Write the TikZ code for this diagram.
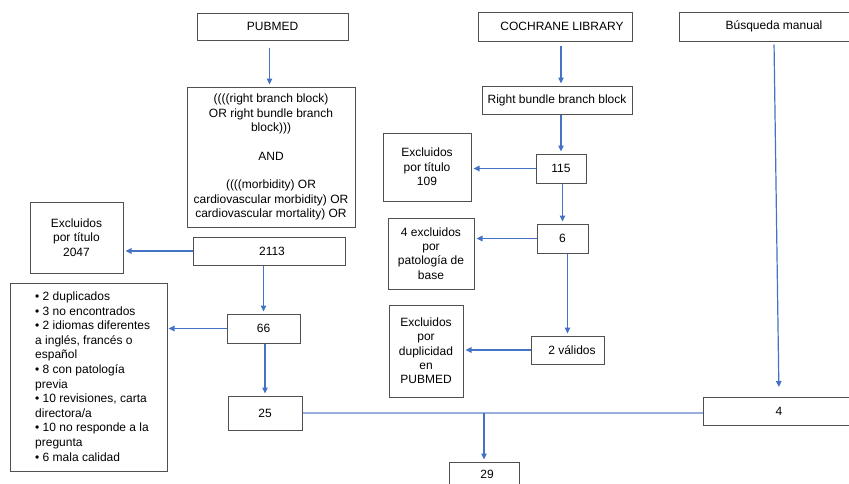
\documentclass[tikz,border=0pt]{standalone}
\usepackage{fontspec}
\setmainfont{Liberation Sans}
\usetikzlibrary{arrows.meta}
\definecolor{arrowblue}{RGB}{68,114,196}
\definecolor{lightblue}{RGB}{150,175,222}
\definecolor{boxgray}{RGB}{80,80,80}
\begin{document}
\begin{tikzpicture}[x=1pt,y=-1pt,
  box/.style={draw=boxgray,line width=1pt,rectangle,inner sep=0pt,align=center,
    font=\fontsize{12}{14.3}\selectfont,text=black},
  arr/.style={draw=arrowblue,line width=1.2pt,-{Triangle[length=6pt,width=5.5pt]},shorten >=2pt},
  joinline/.style={draw=lightblue,line width=1.2pt}]
\useasboundingbox (0,0) rectangle (849,483);
\clip (0,0) rectangle (849,483);
% PUBMED column
\node[box,minimum width=151pt,minimum height=27pt] (pubmed) at (272.5,26.5) {PUBMED};
\node[box,minimum width=168pt,minimum height=140pt] (query) at (271,157)
  {((((right branch block)\\OR right bundle branch\\block)))\\[14.3pt]AND\\[14.3pt]((((morbidity) OR\\cardiovascular morbidity) OR\\cardiovascular mortality) OR};
\node[box,minimum width=152pt,minimum height=28pt] (n2113) at (269,251) {\hspace{6pt}2113};
\node[box,minimum width=93pt,minimum height=71pt] (ex2047) at (76.5,237.5) {Excluidos\\por título\\2047};
\node[box,minimum width=73pt,minimum height=29pt] (n66) at (263.5,328.5) {66};
\node[box,minimum width=157pt,minimum height=188pt] (list) at (88.5,377) {};
\node[anchor=west,inner sep=0pt,align=left,font=\fontsize{12}{14.6}\selectfont,text=black] (listtext) at (35,376.5)
  {• 2 duplicados\\• 3 no encontrados\\• 2 idiomas diferentes\\a inglés, francés o\\español\\• 8 con patología\\previa\\• 10 revisiones, carta\\directora/a\\• 10 no responde a la\\pregunta\\• 6 mala calidad};
\node[box,minimum width=74pt,minimum height=34pt] (n25) at (265,413) {25};
% COCHRANE column
\node[box,minimum width=154pt,minimum height=29pt] (coch) at (555,26.5) {\hspace{14pt}COCHRANE LIBRARY};
\node[box,minimum width=150pt,minimum height=28pt] (rbb) at (557,100) {Right bundle branch block};
\node[box,minimum width=50pt,minimum height=29pt] (n115) at (561,168.5) {115};
\node[box,minimum width=88pt,minimum height=68pt] (ex109) at (427,167) {Excluidos\\por título\\109};
\node[box,minimum width=51pt,minimum height=29pt] (n6) at (562.5,238.5) {6};
\node[box,minimum width=86pt,minimum height=71pt] (ex4) at (431,253.5) {4 excluidos\\por\\patología de\\base};
\node[box,minimum width=73pt,minimum height=28pt] (val) at (567.5,350) {\hspace{9pt}2 válidos};
\node[box,minimum width=74pt,minimum height=92pt] (exdup) at (426,351) {Excluidos\\por\\duplicidad\\en\\PUBMED};
% manual column
\node[box,minimum width=190pt,minimum height=29pt] (bus) at (774,26.5) {Búsqueda manual};
\node[box,minimum width=152pt,minimum height=28pt] (n4) at (779,411.5) {4};
\node[box,minimum width=70pt,minimum height=24pt] (n29) at (484,474) {\hspace{6pt}29};
% arrows
\draw[arr,shorten <=7pt] ([xshift=-3pt]pubmed.south) -- ([xshift=-3pt]pubmed.south |- query.north);
\draw[arr] (n2113.west) -- (n2113.west -| ex2047.east);
\draw[arr] (n66.north |- n2113.south) -- (n66.north);
\draw[arr,shorten >=1pt] (n66.west) -- (n66.west -| list.east);
\draw[arr] (n66.south -| n25.north) -- (n25.north);
\draw[joinline] (n25.east) -- (n25.east -| n4.west);
\draw[arr] (n29.north |- n25.east) -- (n29.north);
\draw[arr,shorten <=4pt] (coch.south -| n115.north) -- (rbb.north -| n115.north);
\draw[arr] (rbb.south -| n115.north) -- (n115.north);
\draw[arr] (n115.west) -- (n115.west -| ex109.east);
\draw[arr] (n115.south -| n6.north) -- (n6.north);
\draw[arr] (n6.west) -- (n6.west -| ex4.east);
\draw[arr] (n6.south -| val.north) -- (val.north);
\draw[arr] (val.west) -- (val.west -| exdup.east);
\draw[arr,shorten <=3pt,shorten >=10pt] (bus.south) -- (n4.north);
\end{tikzpicture}
\end{document}
